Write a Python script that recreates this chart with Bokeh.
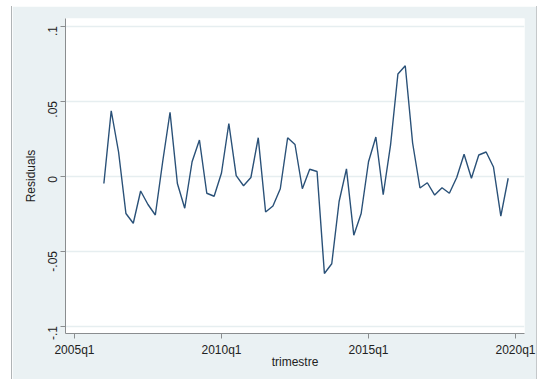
import math
from bokeh.plotting import figure
from bokeh.models import FixedTicker, Range1d
from bokeh.embed import file_html
from bokeh.resources import INLINE

# quarter index: 0 = 2005q1
quarters = list(range(4, 60))
residuals = [
    -0.005, 0.0435, 0.016, -0.025, -0.0315, -0.010, -0.019, -0.026,
    0.0095, 0.0425, -0.005, -0.0215, 0.0095, 0.024, -0.0115, -0.0135,
    0.002, 0.035, 0.0002, -0.0065, -0.001, 0.0255, -0.024, -0.020,
    -0.0085, 0.0255, 0.021, -0.0085, 0.0045, 0.003, -0.065, -0.0585,
    -0.017, 0.0047, -0.0395, -0.025, 0.0095, 0.026, -0.0125, 0.0207,
    0.068, 0.0735, 0.022, -0.008, -0.0045, -0.0127, -0.0078, -0.0115,
    -0.001, 0.0145, -0.0015, 0.014, 0.016, 0.006, -0.0267, -0.0015,
]
x_ticks = [0, 20, 40, 60]
x_tick_labels = ["2005q1", "2010q1", "2015q1", "2020q1"]
y_ticks = [-0.1, -0.05, 0, 0.05, 0.1]
y_tick_labels = ["-.1", "-.05", "0", ".05", ".1"]

BG = "#eaf1f3"
FONT = "Liberation Sans"

p = figure(
    width=526, height=373,
    output_backend="svg", toolbar_location=None,
    x_range=Range1d(-1.22, 61.22), y_range=Range1d(-0.105, 0.105),
    min_border_left=53, min_border_right=14, min_border_top=12, min_border_bottom=46,
    background_fill_color="white", border_fill_color=BG,
    outline_line_color=None,
    x_axis_label="trimestre", y_axis_label="Residuals",
)
p.margin = (6, 0, 0, 11)
p.styles = {"border-left": "1px solid #b0b4b6", "border-right": "1px solid #c4c8ca"}

p.line(quarters, residuals, line_color="#2a5178", line_width=1.4)

p.xaxis.ticker = FixedTicker(ticks=x_ticks)
p.xaxis.major_label_overrides = {t: l for t, l in zip(x_ticks, x_tick_labels)}
p.yaxis.ticker = FixedTicker(ticks=y_ticks)
p.yaxis.major_label_overrides = {t: l for t, l in zip(y_ticks, y_tick_labels)}
p.yaxis.major_label_orientation = math.pi / 2

for ax in (p.xaxis, p.yaxis):
    ax.axis_line_color = "#8a8d8f"
    ax.major_tick_line_color = "#8a8d8f"
    ax.major_tick_out = 5
    ax.major_tick_in = 0
    ax.minor_tick_line_color = None
    ax.major_label_text_font = FONT
    ax.major_label_text_font_size = "12px"
    ax.major_label_text_color = "#222222"
    ax.axis_label_text_font = FONT
    ax.axis_label_text_font_size = "12px"
    ax.axis_label_text_font_style = "normal"
    ax.axis_label_text_color = "#222222"

p.xaxis.major_label_standoff = 4
p.xaxis.axis_label_standoff = -5
p.yaxis.major_label_standoff = 8
p.yaxis.axis_label_standoff = 3

p.xgrid.grid_line_color = None
p.ygrid.grid_line_color = "#e6eef0"
p.ygrid.grid_line_width = 1.5

open("out.html", "w").write(file_html(p, INLINE))
